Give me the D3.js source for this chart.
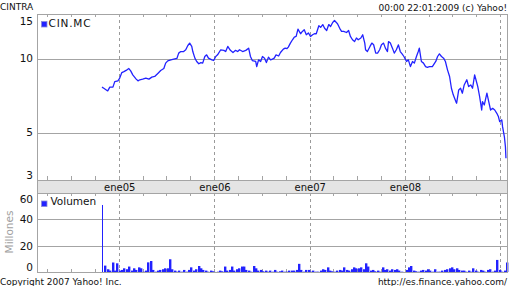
<!DOCTYPE html>
<html>
<head>
<meta charset="utf-8">
<script src="https://cdn.jsdelivr.net/npm/d3@7"></script>
<style>
  body { margin: 0; background: #fff; }
</style>
</head>
<body>
<div id="chart"></div>
<script>
// closing prices (EUR)
const priceDates = [
  "2004-10-27","2004-11-03","2004-11-18","2004-11-26","2004-12-08","2004-12-15","2004-12-27",
  "2005-01-03","2005-01-11","2005-01-19","2005-01-31","2005-02-07","2005-02-14","2005-02-22",
  "2005-03-07","2005-03-14","2005-03-21","2005-04-01","2005-04-13","2005-04-25","2005-05-06",
  "2005-05-17","2005-05-30","2005-06-09","2005-06-21","2005-06-28","2005-07-06","2005-07-18",
  "2005-07-29","2005-08-10","2005-08-17","2005-08-25","2005-09-05","2005-09-13","2005-09-21",
  "2005-09-28","2005-10-06","2005-10-10","2005-10-18","2005-10-25","2005-11-02","2005-11-10",
  "2005-11-17","2005-11-25","2005-12-02","2005-12-09","2005-12-22","2005-12-29",
  "2006-01-06","2006-01-13","2006-01-25","2006-02-06","2006-02-13","2006-02-21","2006-03-03",
  "2006-03-13","2006-03-23","2006-03-31","2006-04-07","2006-04-19","2006-05-01","2006-05-12",
  "2006-05-19","2006-05-26","2006-06-08","2006-06-12","2006-06-19","2006-06-27","2006-07-04",
  "2006-07-12","2006-07-19","2006-07-27","2006-08-04","2006-08-11","2006-08-18","2006-08-25",
  "2006-09-04","2006-09-11","2006-09-22","2006-09-29","2006-10-06","2006-10-11","2006-10-19",
  "2006-10-27","2006-11-03","2006-11-10","2006-11-17","2006-11-27","2006-12-04","2006-12-11",
  "2006-12-19","2006-12-27",
  "2007-01-04","2007-01-12","2007-01-19","2007-01-26","2007-02-05","2007-02-12","2007-02-20",
  "2007-02-27","2007-03-07","2007-03-15","2007-03-22","2007-03-30","2007-04-06","2007-04-13",
  "2007-04-18","2007-04-26","2007-05-03","2007-05-11","2007-05-22","2007-05-30","2007-06-06",
  "2007-06-14","2007-06-22","2007-06-29","2007-07-06","2007-07-16","2007-07-23","2007-07-31",
  "2007-08-03","2007-08-10","2007-08-20","2007-08-27","2007-09-03","2007-09-11","2007-09-18",
  "2007-09-26","2007-10-03","2007-10-11","2007-10-18","2007-10-26","2007-10-30","2007-11-06",
  "2007-11-14","2007-11-21","2007-11-29","2007-12-07","2007-12-14","2007-12-21","2007-12-28",
  "2008-01-07","2008-01-14","2008-01-22","2008-01-30","2008-02-06","2008-02-14","2008-02-21",
  "2008-02-25","2008-03-04","2008-03-12","2008-03-20","2008-03-27","2008-04-04","2008-04-15",
  "2008-04-28","2008-05-05","2008-05-12","2008-05-20","2008-05-28","2008-06-04","2008-06-12",
  "2008-06-20","2008-06-27","2008-07-04","2008-07-14","2008-07-17","2008-07-25","2008-08-01",
  "2008-08-08","2008-08-15","2008-08-25","2008-09-01","2008-09-09","2008-09-16","2008-09-24",
  "2008-09-29","2008-10-06","2008-10-13","2008-10-21","2008-10-24","2008-10-31","2008-11-10",
  "2008-11-17","2008-11-24","2008-12-02","2008-12-10","2008-12-18","2008-12-24","2008-12-29",
  "2009-01-06","2009-01-09","2009-01-16","2009-01-20","2009-01-22"
];
const priceValues = [
  7.68,7.60,7.41,7.68,7.68,8.09,8.15,
  8.36,8.81,8.89,9.04,9.15,8.95,8.62,
  8.28,8.15,8.23,8.28,8.36,8.28,8.44,
  8.49,8.76,8.98,9.15,9.63,9.84,9.93,
  10.00,10.06,10.58,10.74,10.74,10.92,11.37,
  11.63,11.27,10.74,10.09,9.78,9.57,9.68,
  9.63,10.25,10.41,10.09,9.93,9.87,
  10.25,10.41,10.92,10.86,10.74,11.27,10.86,
  10.64,10.86,10.74,10.92,10.74,10.86,11.09,
  10.25,9.87,9.78,9.32,9.93,9.78,10.25,
  10.09,9.68,10.19,9.93,10.00,10.09,10.41,
  10.30,10.64,10.99,11.09,11.05,11.20,11.63,
  12.00,12.31,12.38,13.27,12.70,12.98,13.19,
  12.58,12.80,
  12.38,12.58,12.70,12.70,13.70,13.50,13.85,
  13.37,13.10,13.85,13.60,14.13,14.40,14.13,
  13.92,13.37,12.98,12.98,12.85,13.10,12.38,
  12.00,11.80,12.20,12.00,12.20,12.58,11.63,
  10.92,10.74,11.27,11.63,11.45,10.58,10.58,
  10.92,11.44,11.63,11.09,10.74,11.80,11.63,
  11.09,10.58,10.92,11.44,10.74,10.51,10.25,
  9.78,9.93,9.32,9.78,9.63,10.25,10.74,
  11.09,9.78,9.63,9.32,9.26,9.32,9.32,
  9.78,10.25,10.51,10.25,10.09,9.78,9.04,
  8.49,7.60,7.14,6.70,6.60,7.48,7.60,
  7.25,7.84,8.23,7.72,7.84,7.60,8.62,
  8.23,7.72,7.03,6.19,6.70,6.49,7.25,
  6.70,6.19,6.29,6.19,6.00,5.82,5.55,
  5.64,5.29,4.81,4.38,3.93
];

// traded volume (millions), evenly spaced from first to last session
const volumeRange = ["2004-10-27", "2009-01-22"];
const volumeValues = [
  50.6,5.7,3,2,8,2,7.4,2,2.5,3.7,3,5,2,3.7,2.5,4.4,3.7,1.2,2,8.1,
  9.1,2.5,1.2,2,2.5,3,3.7,3.7,10.4,3,2,1.2,2,1.2,2.5,1.2,2.5,4.4,2,3,
  5.4,3.7,2.5,2,1.2,2,1.5,1,1.2,2,1.5,5,2,2.5,5,2,3,3.7,5,5,
  2.5,2,1.2,5.4,3.7,2,2.5,1.5,2,1.2,2,1.2,2.5,1.2,1.5,2,1.2,1.2,2,2,
  2,2.5,7,2.5,1.2,2.5,
  2.5,1.2,2,1.2,1.2,2,3,2.5,4.4,2,1.5,1.2,2,2.5,2,4.4,2.5,2,3,4.4,
  3.7,3.7,4.4,3,7.4,5,2,2.5,1.5,2,1.2,4.4,2.5,3,2,3,2.5,3,2,1.2,
  0.8,2.5,4.4,5.4,2,1.5,1.2,2,2.5,2,3,2,1.2,3,1.2,1.2,2,2.5,3,3.7,
  4.4,3,3.7,2.5,2,2,1.2,2,1.2,3.7,2,1.2,2.5,2,1.2,2.5,3,1.2,2,9.9,
  2.5,1.2,2,8
];

const priceTicks = [3, 5, 10, 15];
const priceGrid = [5, 10];
const volumeTicks = [0, 20, 40, 60];
const volumeGrid = [20, 40];
const yearDates = ["2005-01-01", "2006-01-01", "2007-01-01", "2008-01-01", "2009-01-01"];
const yearLabels = ["ene05", "ene06", "ene07", "ene08"];

const font = '"DejaVu Sans", Verdana, sans-serif';
const blue = '#2222ff';
const gridColor = '#a4a4a4';

const width = 512, height = 286;
const plot = { left: 37, right: 507, priceTop: 14, priceBottom: 180, volTop: 193, volBottom: 272 };

const parse = d3.timeParse('%Y-%m-%d');
const prices = priceDates.map((d, i) => ({ date: parse(d), value: priceValues[i] }));
const volStart = parse(volumeRange[0]), volEnd = parse(volumeRange[1]);
const volStep = (volEnd - volStart) / (volumeValues.length - 1);
const volumes = volumeValues.map((v, i) => ({ date: new Date(+volStart + i * volStep), value: v }));
const years = yearDates.map(parse);

const x = d3.scaleTime()
  .domain([parse('2004-02-21'), parse('2009-01-26')])
  .range([plot.left, plot.right]);

const y = d3.scaleLog()
  .domain([3.2, 15.3])
  .range([plot.priceBottom, plot.priceTop]);

const yVol = d3.scaleLinear()
  .domain([0, 60])
  .range([273.3, 192.3]);

const crisp = v => Math.round(v) + 0.5;
const clamp = (v, lo, hi) => Math.max(lo, Math.min(hi, v));

const svg = d3.select('#chart')
  .append('svg')
  .attr('width', width)
  .attr('height', height)
  .style('font-family', font);

// gray date band between the panels
svg.append('rect')
  .attr('x', plot.left + 0.5)
  .attr('y', plot.priceBottom + 0.5)
  .attr('width', plot.right - plot.left)
  .attr('height', plot.volTop - plot.priceBottom)
  .attr('fill', '#e4e4e4')
  .attr('stroke', gridColor);

// horizontal grid
svg.selectAll('.price-grid')
  .data(priceGrid)
  .enter().append('line')
  .attr('x1', plot.left).attr('x2', plot.right)
  .attr('y1', d => crisp(y(d))).attr('y2', d => crisp(y(d)))
  .attr('stroke', gridColor);

svg.selectAll('.vol-grid')
  .data(volumeGrid)
  .enter().append('line')
  .attr('x1', plot.left).attr('x2', plot.right)
  .attr('y1', d => crisp(yVol(d))).attr('y2', d => crisp(yVol(d)))
  .attr('stroke', gridColor);

// dashed year lines in both panels
[[plot.priceTop, plot.priceBottom], [plot.volTop, plot.volBottom]].forEach(([t, b]) => {
  svg.append('g')
    .selectAll('line')
    .data(years)
    .enter().append('line')
    .attr('x1', d => crisp(x(d))).attr('x2', d => crisp(x(d)))
    .attr('y1', t).attr('y2', b)
    .attr('stroke', '#9a9a9a')
    .attr('stroke-dasharray', '3,3');
});

// quarterly tick marks on panel edges
const quarters = x.ticks(d3.timeMonth.every(3));
[[plot.priceTop, 3], [plot.priceBottom, -4], [plot.volTop, 3], [plot.volBottom, -3]].forEach(([edge, len]) => {
  svg.append('g')
    .selectAll('line')
    .data(quarters)
    .enter().append('line')
    .attr('x1', d => crisp(x(d))).attr('x2', d => crisp(x(d)))
    .attr('y1', edge).attr('y2', edge + len)
    .attr('stroke', gridColor);
});

// volume bars
const barW = Math.max(1, x(new Date(+volStart + volStep)) - x(volStart));
svg.append('g')
  .selectAll('rect')
  .data(volumes)
  .enter().append('rect')
  .attr('x', d => Math.round(x(d.date)))
  .attr('y', d => yVol(d.value))
  .attr('width', (d, i) => i === 0 ? 1 : barW)
  .attr('height', d => Math.max(0, plot.volBottom - yVol(d.value)))
  .attr('fill', blue);

// price line
const line = d3.line()
  .x(d => x(d.date))
  .y(d => y(d.value));

svg.append('path')
  .datum(prices)
  .attr('fill', 'none')
  .attr('stroke', blue)
  .attr('stroke-width', 1.3)
  .attr('stroke-linejoin', 'round')
  .attr('d', line);

// panel frames
svg.append('rect')
  .attr('x', plot.left + 0.5).attr('y', plot.priceTop + 0.5)
  .attr('width', plot.right - plot.left).attr('height', plot.priceBottom - plot.priceTop)
  .attr('fill', 'none').attr('stroke', gridColor);

svg.append('rect')
  .attr('x', plot.left + 0.5).attr('y', plot.volTop + 0.5)
  .attr('width', plot.right - plot.left).attr('height', plot.volBottom - plot.volTop)
  .attr('fill', 'none').attr('stroke', gridColor);

// y axes (edge labels kept inside the panel)
svg.append('g')
  .attr('transform', `translate(${plot.left - 4},0)`)
  .call(d3.axisLeft(y).tickValues(priceTicks).tickSize(0).tickPadding(0).tickFormat(d3.format('d')))
  .call(g => g.select('.domain').remove())
  .call(g => g.selectAll('.tick')
    .attr('transform', d => `translate(0,${clamp(y(d), plot.priceTop + 8, plot.priceBottom - 4)})`))
  .attr('font-family', font)
  .attr('font-size', 10.5)
  .selectAll('text').attr('fill', '#111');

svg.append('g')
  .attr('transform', `translate(${plot.left - 4},0)`)
  .call(d3.axisLeft(yVol).tickValues(volumeTicks).tickSize(0).tickPadding(0).tickFormat(d3.format('d')))
  .call(g => g.select('.domain').remove())
  .call(g => g.selectAll('.tick')
    .attr('transform', d => `translate(0,${clamp(yVol(d), plot.volTop + 7, plot.volBottom - 4)})`))
  .attr('font-family', font)
  .attr('font-size', 10.5)
  .selectAll('text').attr('fill', '#111');

// month labels in the band
svg.append('g')
  .attr('transform', `translate(0,${plot.priceBottom})`)
  .call(d3.axisBottom(x).tickValues(years.slice(0, 4)).tickSize(0).tickPadding(3.5)
    .tickFormat((d, i) => yearLabels[i]))
  .call(g => g.select('.domain').remove())
  .attr('font-family', font)
  .attr('font-size', 10)
  .selectAll('text').attr('fill', '#111');

// legends
svg.append('rect').attr('x', 41.5).attr('y', 21.5).attr('width', 5.5).attr('height', 5.5)
  .attr('fill', blue).attr('stroke', '#8c8cd8').attr('stroke-width', 0.8);
svg.append('text').attr('x', 48.5).attr('y', 26.7).attr('font-size', 10.5).attr('letter-spacing', 0.8)
  .attr('fill', '#111').text('CIN.MC');

svg.append('rect').attr('x', 41.5).attr('y', 201).attr('width', 5.5).attr('height', 5.5)
  .attr('fill', blue).attr('stroke', '#8c8cd8').attr('stroke-width', 0.8);
svg.append('text').attr('x', 50.5).attr('y', 205.3).attr('font-size', 10.5).attr('fill', '#111').text('Volumen');

svg.append('text')
  .attr('transform', 'translate(12.5,232) rotate(-90)')
  .attr('text-anchor', 'middle')
  .attr('font-size', 10.5)
  .attr('fill', '#a0a0a0')
  .text('Millones');

// header and footer
svg.append('text').attr('x', 0).attr('y', 10).attr('font-size', 9).attr('fill', '#111').text('CINTRA');
svg.append('text').attr('x', 507).attr('y', 11).attr('text-anchor', 'end').attr('font-size', 9)
  .attr('fill', '#111').text('00:00 22:01:2009 (c) Yahoo!');
svg.append('text').attr('x', 0).attr('y', 284.5).attr('font-size', 9).attr('fill', '#111')
  .text('Copyright 2007 Yahoo! Inc.');
svg.append('text').attr('x', 507).attr('y', 284.5).attr('text-anchor', 'end').attr('font-size', 9)
  .attr('fill', '#111').text('http://es.finance.yahoo.com/');
</script>
</body>
</html>
